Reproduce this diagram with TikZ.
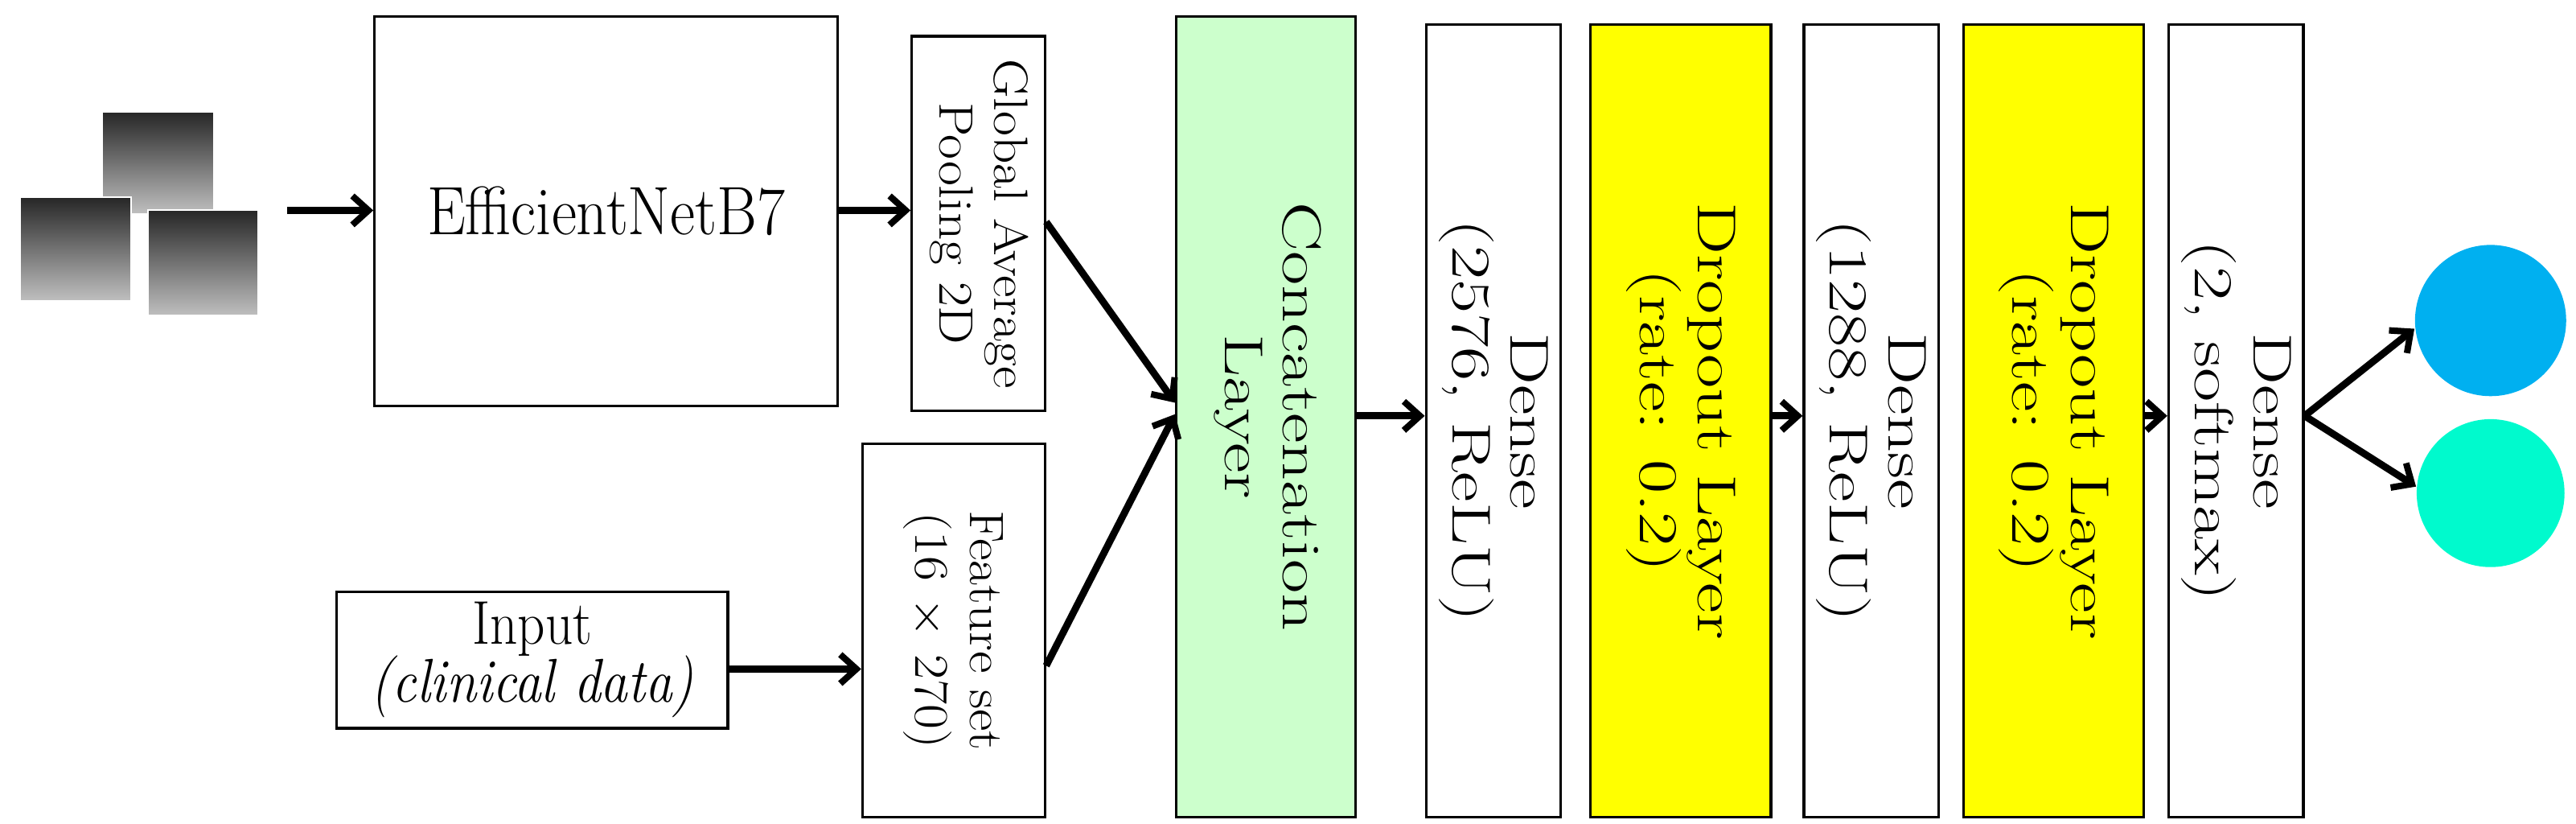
\documentclass[tikz,border=0pt]{standalone}
\usetikzlibrary{arrows.meta}
\definecolor{cgreen}{RGB}{204,255,204}
\definecolor{cyel}{RGB}{255,255,0}
\definecolor{cblue}{RGB}{0,176,240}
\definecolor{cteal}{RGB}{0,250,205}
\newcommand{\stext}[2][1.5]{\scalebox{#1}[1.0]{\begin{tabular}{@{}c@{}}#2\end{tabular}}}
\begin{document}
\begin{tikzpicture}[x=0.5102pt,y=-0.5102pt,
  box/.style={draw,line width=0.8pt,inner sep=0pt},
  lbl/.style={font=\fontsize{15}{17}\selectfont,align=center},
  rlbl/.style={lbl,rotate=-90,inner sep=0pt},
  blbl/.style={rlbl,font=\fontsize{17}{18}\selectfont},
  arr/.style={line width=2.2pt,-{Straight Barb[length=5pt,width=9pt,line width=2pt]}},
  xray/.style={top color=black!85,bottom color=black!25,middle color=black!55,draw=white,line width=0.5pt}]
\useasboundingbox (0,0) rectangle (1568,501);
% x-rays
\fill[xray] (62,68) rectangle (130,130);
\fill[xray] (12,120) rectangle (80,183);
\fill[xray] (90,128) rectangle (157,192);
\coordinate (img) at (175,128);
% boxes
\node[box,minimum width=282*0.5102pt,minimum height=237*0.5102pt] (eff) at (369,128.5) {};
\node[lbl] at (eff) {\scalebox{1.12}[1.25]{\fontsize{17}{20}\selectfont EfficientNetB7}};
\node[box,minimum width=81*0.5102pt,minimum height=228*0.5102pt] (gap) at (595.5,136) {};
\node[rlbl] at (gap) {\stext[1.12]{Global Average\\Pooling 2D}};
\node[box,minimum width=238*0.5102pt,minimum height=83*0.5102pt] (inp) at (324,401.5) {};
\node[lbl] at (inp) {\scalebox{1.05}[1.2]{\begin{tabular}{@{}c@{}}\fontsize{16}{19}\selectfont Input\\[-2pt]\fontsize{16}{19}\selectfont\itshape (clinical data)\end{tabular}}};
\node[box,minimum width=111*0.5102pt,minimum height=227*0.5102pt] (fs) at (580.5,383.5) {};
\node[rlbl] at (fs) {\stext[1.12]{Feature set\\(16 $\times$ 270)}};
\node[box,fill=cgreen,minimum width=109*0.5102pt,minimum height=487*0.5102pt] (cat) at (770.5,253.5) {};
\node[blbl] at (cat) {\stext[1.35]{Concatenation\\Layer}};
\node[box,minimum width=82*0.5102pt,minimum height=482*0.5102pt] (d1) at (909,256) {};
\node[blbl] at (d1) {\stext[1.35]{Dense\\(2576, ReLU)}};
\node[box,fill=cyel,minimum width=110*0.5102pt,minimum height=482*0.5102pt] (p1) at (1023,256) {};
\node[blbl] at (p1) {\stext[1.35]{Dropout Layer\\(rate: 0.2)}};
\node[box,minimum width=82*0.5102pt,minimum height=482*0.5102pt] (d2) at (1139,256) {};
\node[blbl] at (d2) {\stext[1.35]{Dense\\(1288, ReLU)}};
\node[box,fill=cyel,minimum width=110*0.5102pt,minimum height=482*0.5102pt] (p2) at (1250,256) {};
\node[blbl] at (p2) {\stext[1.35]{Dropout Layer\\(rate: 0.2)}};
\node[box,minimum width=82*0.5102pt,minimum height=482*0.5102pt] (d3) at (1361,256) {};
\node[blbl] at (d3) {\stext[1.35]{Dense\\(2, softmax)}};
\node[circle,fill=cblue,minimum size=92*0.5102pt,inner sep=0pt] (o1) at (1516,195) {};
\node[circle,fill=cteal,minimum size=90*0.5102pt,inner sep=0pt] (o2) at (1516,300) {};
% arrows
\draw[arr] (img) -- (eff.west|-img);
\draw[arr] (eff.east|-img) -- (gap.west|-img);
\draw[arr] (gap.east|-0,135) -- (cat.west|-0,245);
\draw[arr] (fs.east|-0,405) -- (cat.west|-0,252);
\draw[arr] (inp.east|-0,407) -- (fs.west|-0,407);
\draw[arr] (cat.east|-0,253) -- (d1.west|-0,253);
\draw[arr] (p1.east|-0,253) -- (d2.west|-0,253);
\draw[arr] (p2.east|-0,253) -- (d3.west|-0,253);
\draw[arr] (d3.east|-0,253) -- (o1.west|-0,200);
\draw[arr] (d3.east|-0,253) -- (o2.west|-0,296);
\end{tikzpicture}
\end{document}
